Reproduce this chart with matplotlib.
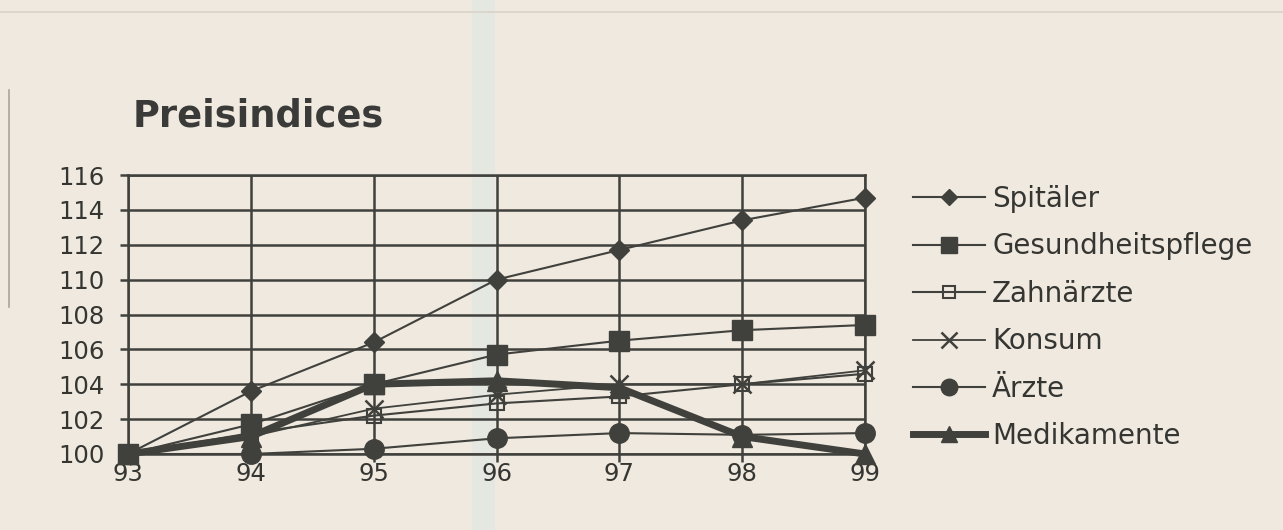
import matplotlib
matplotlib.use("Agg")
import matplotlib.pyplot as plt
from matplotlib.lines import Line2D
from matplotlib.patches import Rectangle

# values (index, 1993 = 100)
years = [93, 94, 95, 96, 97, 98, 99]
spitaeler = [100, 103.6, 106.4, 110.0, 111.7, 113.4, 114.7]
gesundheitspflege = [100, 101.7, 104.0, 105.7, 106.5, 107.1, 107.4]
zahnaerzte = [100, 101.2, 102.2, 102.9, 103.3, 104.0, 104.6]
konsum = [100, 101.0, 102.6, 103.4, 104.0, 104.0, 104.8]
aerzte = [100, 100.0, 100.3, 100.9, 101.2, 101.1, 101.2]
medikamente = [100, 101.0, 104.0, 104.2, 103.8, 101.0, 100.0]

series_names = ["Spitäler", "Gesundheitspflege", "Zahnärzte", "Konsum", "Ärzte", "Medikamente"]
yticks = list(range(100, 117, 2))

BG = "#efe9df"
INK = "#40403c"
TXT = "#353532"
FONT = "DejaVu Sans"

fig = plt.figure(figsize=(12.83, 5.30), dpi=100, facecolor=BG)
# scan artefacts: faint bluish stripe, thin border lines
fig.add_artist(Rectangle((0.368, 0.0), 0.018, 1.0, transform=fig.transFigure,
                         color="#e5e7e1", lw=0, zorder=0))
fig.add_artist(Line2D([0, 1], [0.978, 0.978], transform=fig.transFigure,
                      color="#d9d3ca", lw=1.2, zorder=0))
fig.add_artist(Line2D([0.007, 0.007], [0.42, 0.83], transform=fig.transFigure,
                      color="#aaa59c", lw=1.2, zorder=0))
ax = fig.add_axes([0.0998, 0.1434, 0.5744, 0.5264], facecolor="none")

styles = [
    dict(marker="D", ms=10, mfc=INK, lw=1.5),
    dict(marker="s", ms=14, mfc=INK, lw=1.5),
    dict(marker="s", ms=10, mfc="none", lw=1.5, mew=1.5),
    dict(marker="x", ms=13, mfc=INK, lw=1.3, mew=1.8),
    dict(marker="o", ms=14, mfc=INK, lw=1.5),
    dict(marker="^", ms=14, mfc=INK, lw=5),
]
data = [spitaeler, gesundheitspflege, zahnaerzte, konsum, aerzte, medikamente]

handles = []
for name, vals, st in zip(series_names, data, styles):
    ax.plot(years, vals, color=INK, mec=INK, clip_on=False, zorder=3, **st)
    leg_st = dict(st)
    leg_st["ms"] = st["ms"] * 0.85
    handles.append(Line2D([], [], color=INK, mec=INK, label=name, **leg_st))

ax.set_xlim(93, 99)
ax.set_ylim(100, 116)
ax.set_xticks(years)
ax.set_yticks(yticks)
ax.grid(True, color=INK, lw=1.8)
ax.set_axisbelow(True)
for s in ax.spines.values():
    s.set_color(INK)
    s.set_linewidth(1.8)
ax.tick_params(axis="both", colors=INK, length=6, width=1.8, direction="out")
ax.tick_params(axis="y", labelsize=17.5, pad=11)
ax.tick_params(axis="x", labelsize=17.5, pad=-0.5)
for lab in ax.get_xticklabels() + ax.get_yticklabels():
    lab.set_fontfamily(FONT)
    lab.set_color(TXT)

fig.text(0.1037, 0.782, "Preisindices", fontsize=26.5, fontweight="bold",
         family=FONT, color="#3a3a38", va="center")

leg = fig.legend(handles=handles, loc="upper left", bbox_to_anchor=(0.7116, 0.651),
                 frameon=False, handlelength=2.6, handletextpad=0.25,
                 borderpad=0, borderaxespad=0,
                 labelspacing=0.70, prop={"family": FONT, "size": 20})
for t in leg.get_texts():
    t.set_color(TXT)

fig.savefig("out.png", dpi=100, facecolor=BG)
